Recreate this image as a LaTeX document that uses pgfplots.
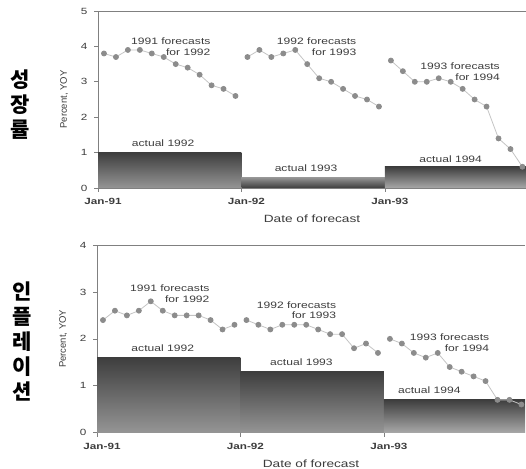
\documentclass[border=0pt]{standalone}
\usepackage{fontspec}
\setmainfont[FakeStretch=1.3]{Liberation Sans}
\newfontfamily\plainsans{Liberation Sans}
\newfontfamily\kr{Noto Sans CJK KR}
\usepackage{pgfplots}
\pgfplotsset{compat=1.18}
\definecolor{axc}{HTML}{808080}
\definecolor{txt}{HTML}{3C3C3C}
\definecolor{lnc}{HTML}{C4C4C4}
\definecolor{mkc}{HTML}{8C8C8C}
\definecolor{bdark}{HTML}{3E3E3E}
\definecolor{blight}{HTML}{959595}
\definecolor{blighter}{HTML}{A8A8A8}
\tikzset{
  ann/.style={font=\fontsize{9.3}{10.6}\selectfont, text=txt, align=right, anchor=east},
  act/.style={font=\fontsize{9.3}{10.6}\selectfont, text=txt, anchor=center},
}
\pgfplotsset{
  fc/.style={scale only axis, width=428pt, xmin=0, xmax=35.8, ymin=0,
    axis x line*=bottom, axis y line*=left,
    axis line style={axc, line width=0.8pt},
    tick align=outside, major tick length=4pt, tick style={axc, line width=0.6pt},
    xtick={0,12,24}, xticklabels={Jan-91,Jan-92,Jan-93},
    xticklabel style={font=\fontsize{9}{10}\selectfont\bfseries, text=txt, xshift=5pt, yshift=-3pt},
    yticklabel style={font=\fontsize{9}{10}\selectfont, text=txt, xshift=-3pt},
    /pgf/number format/assume math mode=true,
    xlabel={Date of forecast},
    xlabel style={font=\fontsize{10.5}{12}\selectfont, text=txt, yshift=-3pt},
    ylabel={\plainsans Percent, YOY},
    ylabel style={font=\fontsize{9.5}{11}\selectfont, text=txt, yshift=6pt},
  },
  fser/.style={color=lnc, line width=0.8pt, mark=*, mark size=2.5pt,
    mark options={fill=mkc, draw=mkc}},
  bar/.style={draw=none},
}
\begin{document}
\begin{tikzpicture}
\useasboundingbox (0,0) rectangle (526pt,468pt);
% ---------- top: growth ----------
\begin{axis}[fc, at={(98pt,280pt)}, anchor=south west, height=177pt,
  ymax=5, ytick={0,1,2,3,4,5}]
\addplot[bar, top color=bdark, bottom color=blight] coordinates {(0,1.0) (12,1.0)} \closedcycle;
\addplot[bar, top color=blight, bottom color=bdark] coordinates {(12,0.3) (24,0.3)} \closedcycle;
\addplot[bar, top color=bdark, bottom color=blighter] coordinates {(24,0.6) (35.8,0.6)} \closedcycle;
\addplot[fser] coordinates {(0.5,3.8) (1.5,3.7) (2.5,3.9) (3.5,3.9) (4.5,3.8) (5.5,3.7) (6.5,3.5) (7.5,3.4) (8.5,3.2) (9.5,2.9) (10.5,2.8) (11.5,2.6)};
\addplot[fser] coordinates {(12.5,3.7) (13.5,3.9) (14.5,3.7) (15.5,3.8) (16.5,3.9) (17.5,3.5) (18.5,3.1) (19.5,3.0) (20.5,2.8) (21.5,2.6) (22.5,2.5) (23.5,2.3)};
\addplot[fser] coordinates {(24.5,3.6) (25.5,3.3) (26.5,3.0) (27.5,3.0) (28.5,3.1) (29.5,3.0) (30.5,2.8) (31.5,2.5) (32.5,2.3) (33.5,1.4) (34.5,1.1) (35.5,0.6)};
\draw[axc, line width=0.8pt] (rel axis cs:0,1) -- (rel axis cs:1,1);
\node[ann] at (axis cs:9.7,4.0) {1991 forecasts\\for 1992};
\node[ann] at (axis cs:21.9,4.0) {1992 forecasts\\for 1993};
\node[ann] at (axis cs:33.9,3.28) {1993 forecasts\\for 1994};
\node[act] at (axis cs:5.45,1.28) {actual 1992};
\node[act] at (axis cs:17.4,0.56) {actual 1993};
\node[act] at (axis cs:29.5,0.82) {actual 1994};
\end{axis}
% ---------- bottom: inflation ----------
\begin{axis}[fc, at={(97pt,35.3pt)}, anchor=south west, height=187.7pt,
  ymax=4, ytick={0,1,2,3,4}]
\addplot[bar, top color=bdark, bottom color=blight] coordinates {(0,1.6) (12,1.6)} \closedcycle;
\addplot[bar, top color=bdark, bottom color=blight] coordinates {(12,1.3) (24,1.3)} \closedcycle;
\addplot[bar, top color=bdark, bottom color=blighter] coordinates {(24,0.7) (35.8,0.7)} \closedcycle;
\addplot[fser] coordinates {(0.5,2.4) (1.5,2.6) (2.5,2.5) (3.5,2.6) (4.5,2.8) (5.5,2.6) (6.5,2.5) (7.5,2.5) (8.5,2.5) (9.5,2.4) (10.5,2.2) (11.5,2.3)};
\addplot[fser] coordinates {(12.5,2.4) (13.5,2.3) (14.5,2.2) (15.5,2.3) (16.5,2.3) (17.5,2.3) (18.5,2.2) (19.5,2.1) (20.5,2.1) (21.5,1.8) (22.5,1.9) (23.5,1.7)};
\addplot[fser] coordinates {(24.5,2.0) (25.5,1.9) (26.5,1.7) (27.5,1.6) (28.5,1.7) (29.5,1.4) (30.5,1.3) (31.5,1.2) (32.5,1.1) (33.5,0.7) (34.5,0.7) (35.5,0.6)};
\draw[axc, line width=0.8pt] (rel axis cs:0,1) -- (rel axis cs:1,1);
\node[ann] at (axis cs:9.7,2.96) {1991 forecasts\\for 1992};
\node[ann] at (axis cs:20.3,2.61) {1992 forecasts\\for 1993};
\node[ann] at (axis cs:33.1,1.92) {1993 forecasts\\for 1994};
\node[act] at (axis cs:5.5,1.81) {actual 1992};
\node[act] at (axis cs:17.1,1.51) {actual 1993};
\node[act] at (axis cs:27.8,0.91) {actual 1994};
\end{axis}
% ---------- Korean side labels ----------
\node[font=\kr\fontsize{21}{25}\selectfont\bfseries, align=center, text=black] at (20pt,363pt) {성\\장\\률};
\node[font=\kr\fontsize{21}{25}\selectfont\bfseries, align=center, text=black] at (22pt,126.5pt) {인\\플\\레\\이\\션};
\end{tikzpicture}
\end{document}
